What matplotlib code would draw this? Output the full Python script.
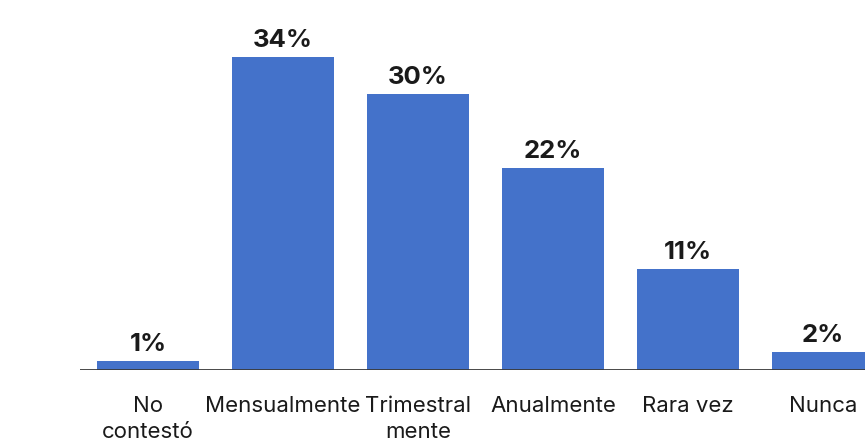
import matplotlib.pyplot as plt

plt.rcParams['font.family'] = ['Inter', 'DejaVu Sans']

categorias = ['No\ncontestó', 'Mensualmente', 'Trimestral\nmente', 'Anualmente', 'Rara vez', 'Nunca']
porcentajes = [1, 34, 30, 22, 11, 2]
etiquetas = ['1%', '34%', '30%', '22%', '11%', '2%']

fig = plt.figure(figsize=(8.65, 4.45), dpi=100)
ax = fig.add_axes([80 / 865, 75 / 445, 785 / 865, 370 / 445])

x = range(len(categorias))
barras = ax.bar(x, porcentajes, width=0.756, color='#4472CA', zorder=2)
ax.axhline(0, color='#3a3a3a', linewidth=1.3, zorder=3)

for b, txt in zip(barras, etiquetas):
    ax.annotate(txt, (b.get_x() + b.get_width() / 2, b.get_height()),
                xytext=(0, 3.5), textcoords='offset points',
                ha='center', va='bottom', fontsize=18.5, fontweight='bold',
                color='#1a1a1a')

ax.set_xlim(-0.504, 5.311)
ax.set_ylim(0, 40.2)
ax.set_xticks(list(x))
ax.set_xticklabels(categorias, fontsize=16, color='#1a1a1a', linespacing=1.35)
ax.tick_params(axis='x', length=0, pad=19)
ax.set_yticks([])
for s in ax.spines.values():
    s.set_visible(False)

fig.savefig('out.png', dpi=100)
